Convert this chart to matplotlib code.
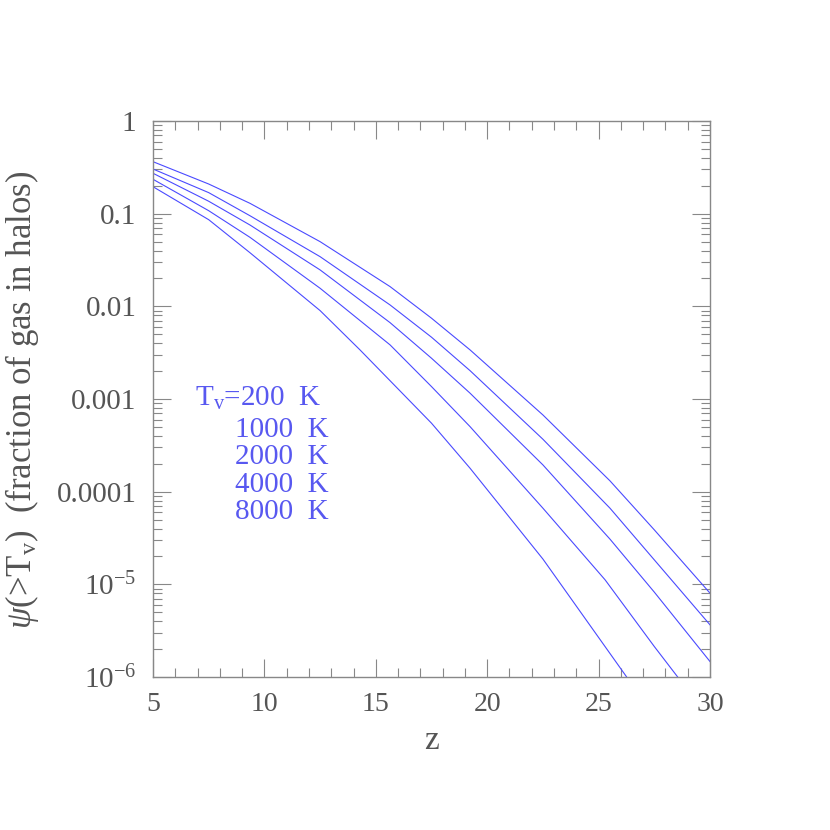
import matplotlib
matplotlib.use("Agg")
import matplotlib.pyplot as plt
import numpy as np

plt.rcParams['font.family'] = ['Liberation Serif', 'DejaVu Serif']
plt.rcParams['mathtext.fontset'] = 'custom'
plt.rcParams['mathtext.rm'] = 'Liberation Serif'
plt.rcParams['mathtext.it'] = 'Liberation Serif:italic'
plt.rcParams['mathtext.bf'] = 'Liberation Serif:bold'

# ---- data ----
labels = ["200 K", "1000 K", "2000 K", "4000 K", "8000 K"]

z_200 = [5, 7.5, 9.35, 12.5, 15.64, 17.5, 19.23, 22.5, 25.51, 27.5, 30]
log_psi_200 = [-0.439, -0.680, -0.888, -1.302, -1.787, -2.128, -2.470, -3.172, -3.883, -4.412, -5.095]

z_1000 = [5, 7.5, 9.35, 12.5, 15.64, 17.5, 19.23, 22.5, 25.51, 27.5, 30]
log_psi_1000 = [-0.518, -0.773, -1.022, -1.464, -1.985, -2.333, -2.694, -3.434, -4.178, -4.736, -5.437]

z_2000 = [5, 7.5, 9.35, 12.5, 15.64, 17.5, 19.23, 22.5, 25.51, 27.5, 30]
log_psi_2000 = [-0.564, -0.866, -1.122, -1.607, -2.176, -2.560, -2.937, -3.711, -4.512, -5.084, -5.833]

z_4000 = [5, 7.5, 9.35, 12.5, 15.64, 17.5, 19.23, 22.5, 25.29, 27.5, 28.55]
log_psi_4000 = [-0.629, -0.968, -1.255, -1.805, -2.416, -2.866, -3.298, -4.178, -4.951, -5.671, -6.0]

z_8000 = [5, 7.5, 9.35, 12.5, 14.29, 17.5, 19.23, 22.5, 26.26]
log_psi_8000 = [-0.709, -1.065, -1.421, -2.046, -2.470, -3.261, -3.747, -4.727, -6.0]

x_ticks = [5, 10, 15, 20, 25, 30]
y_ticks = [1e-6, 1e-5, 1e-4, 1e-3, 1e-2, 1e-1, 1]
y_tick_labels = [r"$10^{-6}$", r"$10^{-5}$", "0.0001", "0.001", "0.01", "0.1", "1"]

# ---- style ----
W = 830
fig = plt.figure(figsize=(8.3, 8.3), dpi=100)
ax = fig.add_axes([153 / W, 1 - 677 / W, (710 - 153) / W, (677 - 121) / W])

line_color = "#4a4aff"
text_blue = "#5858f0"
gray = "#555555"
axis_gray = "#888888"

for zz, lp in [(z_200, log_psi_200), (z_1000, log_psi_1000), (z_2000, log_psi_2000),
               (z_4000, log_psi_4000), (z_8000, log_psi_8000)]:
    ax.plot(zz, 10 ** np.array(lp), color=line_color, lw=0.8)

ax.set_yscale("log")
ax.set_xlim(5, 30)
ax.set_ylim(1e-6, 1)

ax.set_xticks(x_ticks)
ax.set_xticklabels([str(t) for t in x_ticks])
ax.set_xticks(np.arange(5, 31, 1), minor=True)
ax.set_yticks(y_ticks)
ax.set_yticklabels(y_tick_labels)
ax.yaxis.set_minor_locator(matplotlib.ticker.LogLocator(base=10, subs=np.arange(2, 10)))
ax.yaxis.set_minor_formatter(matplotlib.ticker.NullFormatter())

ax.tick_params(which="both", direction="in", top=True, right=True,
               colors=axis_gray, labelcolor=gray)
ax.tick_params(axis="x", labelsize=20, pad=11)
ax.tick_params(axis="y", labelsize=21, pad=12)
ax.tick_params(which="major", length=13, width=0.8)
ax.tick_params(which="minor", length=6.5, width=0.8)
for s in ax.spines.values():
    s.set_color(axis_gray)
    s.set_linewidth(1.0)

ax.set_xlabel("z", fontsize=24, color=gray, labelpad=6)
fig.text(22 / W, 1 - 400 / W, r"$\psi$(>T$_{\rm v}$)  (fraction of gas in halos)",
         rotation=90, ha="center", va="center", fontsize=25, color=gray)

fig.text(195 / W, 1 - 406 / W, r"T$_{\rm v}$=" + labels[0].replace(" ", "  "),
         ha="left", va="baseline", fontsize=21, color=text_blue)
for i, lab in enumerate(labels[1:]):
    fig.text(235 / W, 1 - (436.7 + 27.5 * i) / W, lab.replace(" ", "  "),
             ha="left", va="baseline", fontsize=21, color=text_blue)

fig.savefig("out.png", dpi=100)
